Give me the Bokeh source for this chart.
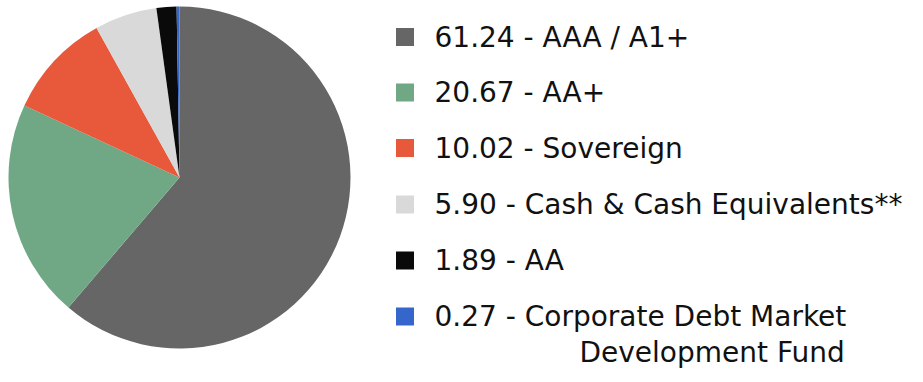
import math
from bokeh.plotting import figure
from bokeh.models import Range1d, ColumnDataSource
from bokeh.core.properties import value
from bokeh.embed import file_html
from bokeh.resources import INLINE

# ---- data ----
values = [61.24, 20.67, 10.02, 5.90, 1.89, 0.27]
labels = ["AAA / A1+", "AA+", "Sovereign", "Cash & Cash Equivalents**", "AA",
          "Corporate Debt Market\nDevelopment Fund"]
colors = ["#666666", "#70a886", "#e8583b", "#d9d9d9", "#0a0a0a", "#3566cc"]

W, H = 915, 374
p = figure(width=W, height=H, output_backend="svg", toolbar_location=None,
           x_range=Range1d(0, W), y_range=Range1d(0, H),
           min_border=0, outline_line_color=None)
p.axis.visible = False
p.grid.visible = False
p.background_fill_color = "white"
p.border_fill_color = "white"

def Y(img_y):
    return H - img_y

# pie: start at 12 o'clock, clockwise
total = sum(values)
starts, ends = [], []
acc = 0.0
for v in values:
    a0 = math.pi / 2 - 2 * math.pi * acc / total
    acc += v
    a1 = math.pi / 2 - 2 * math.pi * acc / total
    starts.append(a0)
    ends.append(a1)

src = ColumnDataSource(dict(x=[179] * len(values), y=[Y(177)] * len(values),
                            start=starts, end=ends, color=colors))
p.wedge(x="x", y="y", radius=171, start_angle="start", end_angle="end",
        direction="clock", fill_color="color", line_color=None, source=src)

# legend
row_y = [36.5, 92, 147.5, 204, 260, 316]
sq_x = [404.5] * len(values)
p.rect(x=sq_x, y=[Y(v) for v in row_y], width=18, height=18,
       fill_color=colors, line_color=None)

tx, ty, tt = [], [], []
for v, lab, ry in zip(values, labels, row_y):
    parts = lab.split("\n")
    tx.append(434); ty.append(Y(ry)); tt.append(f"{v:.2f} - {parts[0]}")
    for i, extra in enumerate(parts[1:], 1):
        tx.append(579); ty.append(Y(ry + 36 * i)); tt.append(extra)

p.text(x=tx, y=ty, text=tt, text_font=value("DejaVu Sans"), text_font_size="28px",
       text_baseline="middle", text_align="left", text_color="#111111")

open("out.html", "w").write(file_html(p, INLINE))
